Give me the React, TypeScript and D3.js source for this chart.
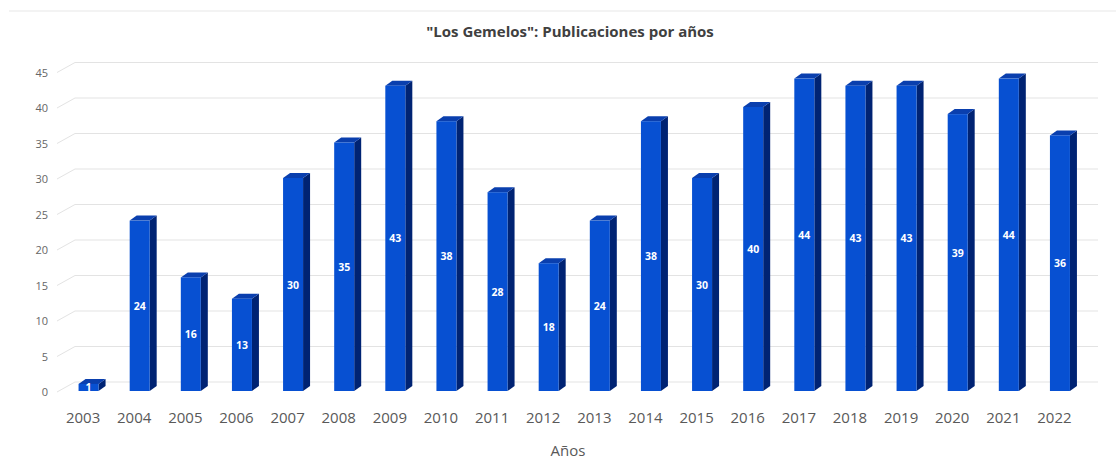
import React from "react";
import * as d3 from "d3";

const years = ["2003","2004","2005","2006","2007","2008","2009","2010","2011","2012","2013","2014","2015","2016","2017","2018","2019","2020","2021","2022"];
const counts = [1,24,16,13,30,35,43,38,28,18,24,38,30,40,44,43,43,39,44,36];
const yTicks = [0,5,10,15,20,25,30,35,40,45];

const W = 1116, H = 466;
const DX = 7, DY = -5;      // bar depth offset
const GDX = 18, GDY = -10;  // gridline depth offset

export default function App() {
  const xl = d3.scaleBand<string>().domain(years).range([57.5, 1080]);
  const y = d3.scaleLinear().domain([0, 45]).range([391, 391 - 45 * 7.1]);
  const bw = 20;
  const font = "'Open Sans', 'Liberation Sans', sans-serif";
  return (
    <svg width={W} height={H} style={{ position: "absolute", left: 0, top: 0, background: "#fff" }}>
      <line x1={9} x2={W} y1={11} y2={11} stroke="#e8e8e8" strokeWidth={1.2} />
      <text x={570} y={37} textAnchor="middle" fontFamily={font} fontWeight={700} fontSize={15} fill="#404040">
        "Los Gemelos": Publicaciones por años
      </text>
      {yTicks.map(t => {
        const yy = y(t) + 1;
        return (
          <g key={t}>
            <polyline points={`57,${yy} ${57 + GDX},${yy + GDY} 1098,${yy + GDY}`} fill="none" stroke="#e3e3e3" strokeWidth={1} />
            <text x={48} y={yy + 4} textAnchor="end" fontFamily={font} fontSize={11} fill="#666">{t}</text>
          </g>
        );
      })}
      {years.map((yr, i) => {
        const v = counts[i];
        const x0 = (xl(yr)! + xl.bandwidth() / 2) - 4.5;
        const yt = y(v), yb = y(0);
        return (
          <g key={yr}>
            <polygon points={`${x0 + bw},${yt} ${x0 + bw + DX},${yt + DY} ${x0 + bw + DX},${yb + DY} ${x0 + bw},${yb}`} fill="#002373" />
            <polygon points={`${x0},${yt} ${x0 + DX},${yt + DY} ${x0 + bw + DX},${yt + DY} ${x0 + bw},${yt}`} fill="#0a3fae" />
            <rect x={x0} y={yt} width={bw} height={yb - yt} fill="#0750d2" />
            <text x={x0 + bw / 2} y={(yt + yb) / 2 + 4} textAnchor="middle" fontFamily={font} fontWeight={700} fontSize={10.5} fill="#fff">{v}</text>
          </g>
        );
      })}
      {years.map(yr => (
        <text key={yr} x={xl(yr)! + xl.bandwidth() / 2} y={423} textAnchor="middle" fontFamily={font} fontSize={15} fill="#595959">{yr}</text>
      ))}
      <text x={568} y={456} textAnchor="middle" fontFamily={font} fontSize={15} fill="#595959">Años</text>
    </svg>
  );
}
